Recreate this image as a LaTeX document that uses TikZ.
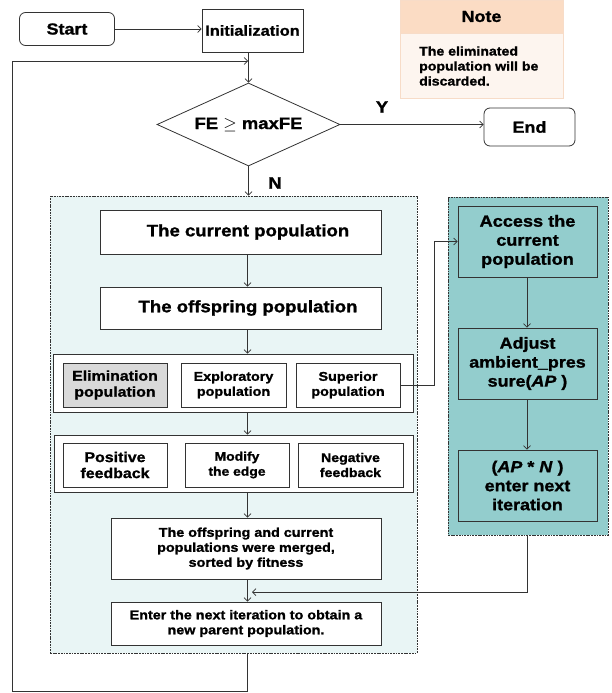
\documentclass[tikz,border=0pt]{standalone}
\usepackage{fontspec}
\setmainfont{Liberation Sans}[FakeStretch=1.12, BoldFeatures={FakeBold=1.2}, BoldItalicFeatures={FakeBold=1.2}]
\usetikzlibrary{arrows.meta,shapes.geometric,calc}
\newcommand\myfs[2]{\fontsize{#1}{#2}\selectfont}
\definecolor{lcfill}{HTML}{E9F5F5}
\definecolor{rcfill}{HTML}{93CDCD}
\definecolor{notehead}{HTML}{FBDCC4}
\definecolor{notebody}{HTML}{FDF5EF}
\definecolor{noteedge}{HTML}{F7DCC8}
\definecolor{elimfill}{HTML}{D9D9D9}
\definecolor{linec}{HTML}{333333}
\begin{document}
\begin{tikzpicture}[x=1pt,y=-1pt,
  box/.style={draw=linec, fill=white, line width=0.8pt, align=center, inner sep=1pt, font=\bfseries},
  rbox/.style={box, rounded corners=6pt},
  tbox/.style={box, fill=rcfill},
  cont/.style={draw=linec, line width=0.8pt, dash pattern=on 1.8pt off 0.9pt},
  arr/.style={draw=linec, line width=0.7pt, -{Straight Barb[length=3.5pt,width=7pt]}},
  lbl/.style={font=\bfseries\myfs{16.5}{19}}
]
\useasboundingbox (0,0) rectangle (612,693);

% top part
\node[rbox, minimum width=95pt, minimum height=33pt, font=\bfseries\myfs{16}{18}] (start) at (67,29) {Start};
\node[box, minimum width=101pt, minimum height=43pt, font=\bfseries\myfs{14.6}{17}] (init) at (252.5,30.5) {Initialization};

\node[draw=noteedge, fill=notehead, line width=0.6pt, minimum width=163pt, minimum height=33pt, inner sep=0pt, font=\bfseries\myfs{16}{18}] (nhead) at (481.5,16.5) {Note};
\node[draw=noteedge, fill=notebody, line width=0.6pt, minimum width=163pt, minimum height=65pt, inner sep=0pt] (nbody) at (481.5,65.5) {};
\node[anchor=west, align=left, inner sep=0pt, font=\bfseries\myfs{12.6}{15}] (ntext) at (419,66) {The eliminated\\population will be\\discarded.};

\node[diamond, draw=linec, line width=0.8pt, fill=white, shape aspect=2.2, minimum width=183pt, minimum height=83pt, inner sep=0pt, font=\bfseries\myfs{16.5}{19}] (dia) at (248.5,124.5) {FE $\geq$ maxFE};
\node[lbl] (ylab) at (382,107) {Y};
\node[lbl] (nlab) at (275,183) {N};
\node[rbox, minimum width=91pt, minimum height=38pt, font=\bfseries\myfs{16}{18}] (end) at (529.5,127) {End};

% left container
\node[cont, fill=lcfill, minimum width=367pt, minimum height=457pt, inner sep=0pt] (lc) at (233.5,424.5) {};
\coordinate (spine) at (247.5,0);
\node[box, minimum width=281pt, minimum height=44pt, font=\bfseries\myfs{16.6}{19}] (cur) at (240.5,232) {\hspace*{15pt}The current population};
\node[box, minimum width=281pt, minimum height=42pt, font=\bfseries\myfs{16.6}{19}] (off) at (240.5,308) {\hspace*{15pt}The offspring population};

\node[box, minimum width=360pt, minimum height=58pt] (popc) at (233,383) {};
\node[box, fill=elimfill, minimum width=104pt, minimum height=44pt, font=\bfseries\myfs{14.2}{16}] (elim) at (115,385) {Elimination\\population};
\node[box, minimum width=105pt, minimum height=44pt, font=\bfseries\myfs{12.8}{15}] (expl) at (233.5,385) {Exploratory\\population};
\node[box, minimum width=104pt, minimum height=44pt, font=\bfseries\myfs{12.8}{15}] (sup) at (348,385) {Superior\\population};

\node[box, minimum width=359pt, minimum height=57pt] (fbc) at (233.5,463.5) {};
\node[box, minimum width=104pt, minimum height=44pt, font=\bfseries\myfs{14.2}{16}] (pos) at (115,465) {Positive\\feedback};
\node[box, minimum width=104pt, minimum height=44pt, font=\bfseries\myfs{12.4}{15}] (mod) at (237,465) {Modify\\the edge};
\node[box, minimum width=105pt, minimum height=44pt, font=\bfseries\myfs{12.6}{15}] (neg) at (350.5,465) {Negative\\feedback};

\node[box, minimum width=270pt, minimum height=61pt, font=\bfseries\myfs{12.8}{15}] (merged) at (246,548.5) {The offspring and current\\populations were merged,\\sorted by fitness};
\node[box, minimum width=270pt, minimum height=43pt, font=\bfseries\myfs{12.8}{15}] (enter) at (246,623.5) {Enter the next iteration to obtain a\\new parent population.};

% right container
\node[cont, fill=rcfill, minimum width=160pt, minimum height=338pt, inner sep=0pt] (rc) at (528,366) {};
\node[tbox, minimum width=139pt, minimum height=71pt, font=\bfseries\myfs{16.2}{19}] (acc) at (527.5,241.5) {Access the\\current\\population};
\node[tbox, minimum width=139pt, minimum height=71pt, font=\bfseries\myfs{16}{19}] (adj) at (527.5,363.5) {Adjust\\ambient\_pres\\sure(\textit{AP} )};
\node[tbox, minimum width=139pt, minimum height=71pt, font=\bfseries\myfs{16}{19}] (apn) at (527.5,485.5) {(\textit{AP} * \textit{N} )\\enter next\\iteration};

% coordinates
\coordinate (loopin) at (248,61);
\coordinate (join) at (252,592);

% connectors
\draw[arr] (start.east) -- (start.east -| init.west);
\draw[arr] (init.south -| dia.north) -- (dia.north);
\draw[arr] (dia.east) -- (dia.east -| end.west);
\draw[arr] (dia.south) -- (dia.south |- lc.north);
\draw[arr] (cur.south -| spine) -- (off.north -| spine);
\draw[arr] (off.south -| spine) -- (popc.north -| spine);
\draw[arr] (popc.south -| spine) -- (fbc.north -| spine);
\draw[arr] (fbc.south -| spine) -- (merged.north -| spine);
\draw[arr] (merged.south -| spine) -- (enter.north -| spine);
\draw[arr] (sup.east) -- ++(34,0) |- (acc.west);
\draw[arr] (acc.south -| 527,0) -- (adj.north -| 527,0);
\draw[arr] (adj.south -| 527,0) -- (apn.north -| 527,0);
\draw[arr] (rc.south -| 527,0) |- (join);
\draw[arr] (lc.south -| spine) -- ++(0,38) -| (12,61) -- (loopin);
\end{tikzpicture}
\end{document}
